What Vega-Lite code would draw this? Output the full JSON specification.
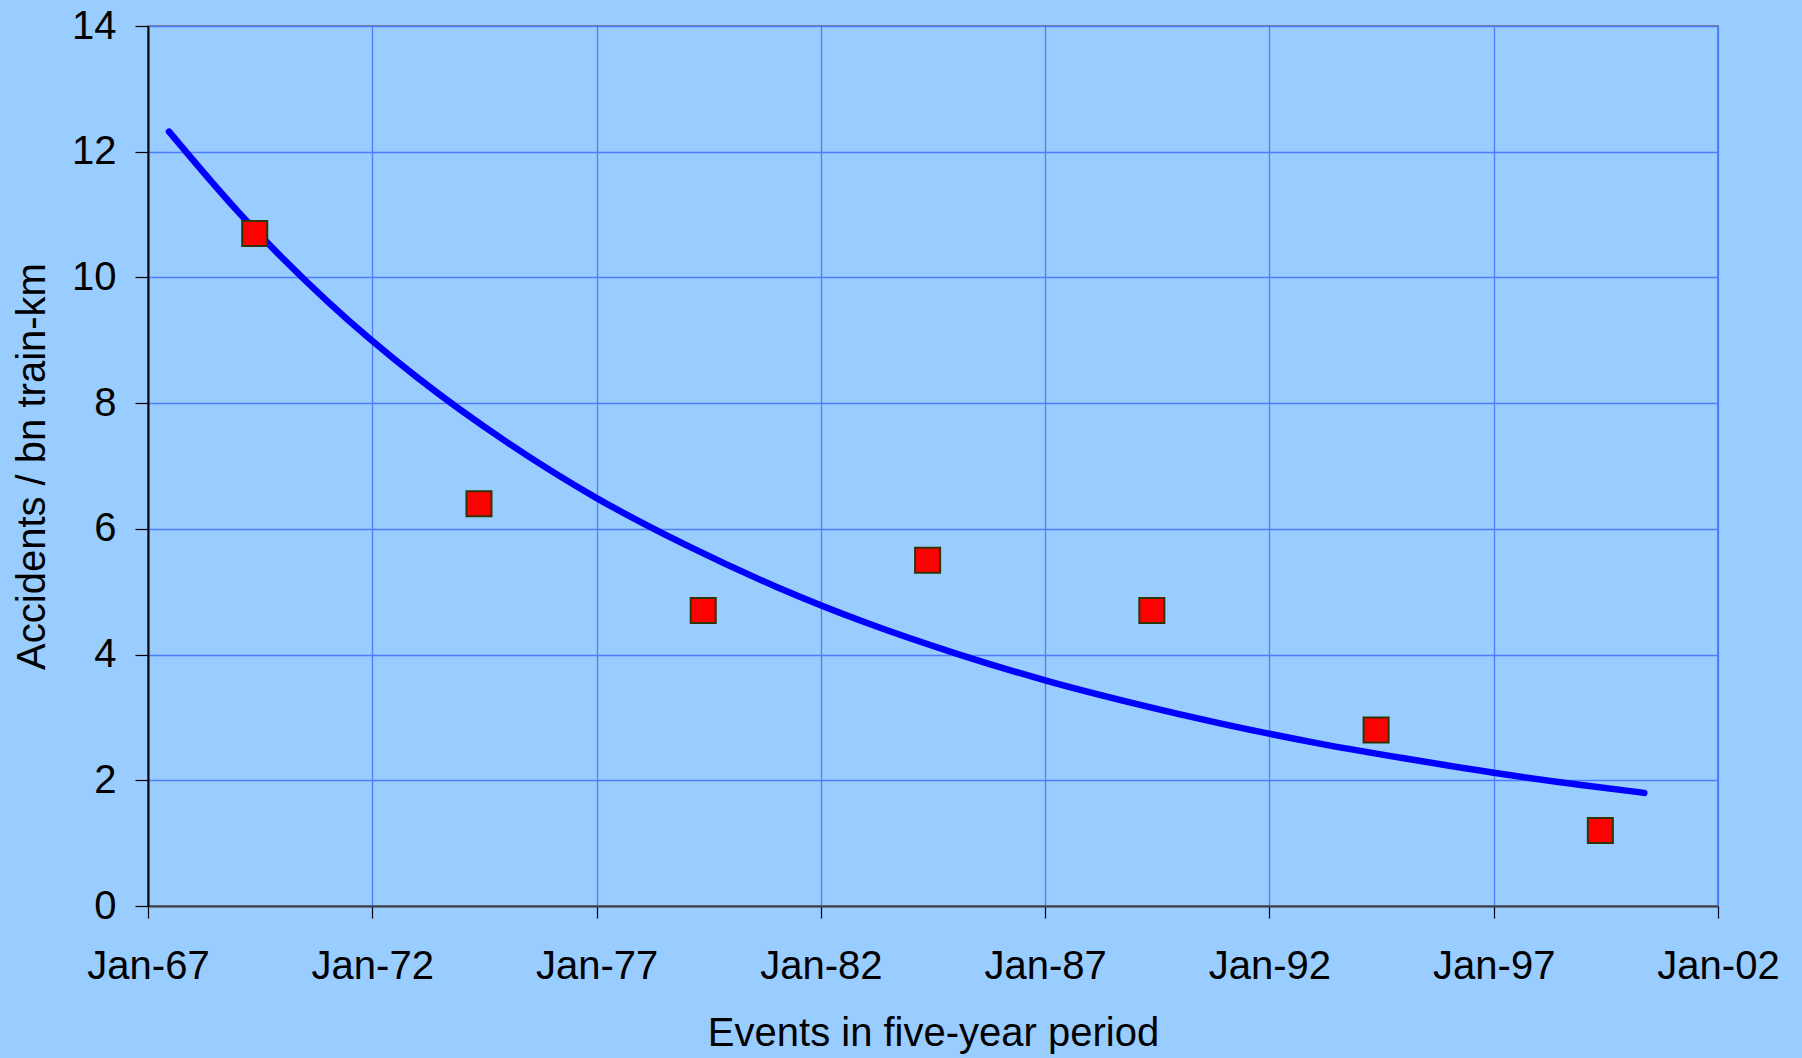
{
  "$schema": "https://vega.github.io/schema/vega-lite/v6.json",
  "width": 1570,
  "height": 880,
  "autosize": {"type": "none"},
  "padding": {"left": 148, "top": 26, "right": 84, "bottom": 152},
  "background": "#99CCFF",
  "config": {
    "view": {"stroke": "#808080", "strokeWidth": 2, "fill": "#99CCFF"},
    "font": "Liberation Sans",
    "axis": {
      "labelFont": "Liberation Sans",
      "titleFont": "Liberation Sans",
      "labelColor": "#000000",
      "titleColor": "#000000",
      "labelFontSize": 40,
      "titleFontSize": 40,
      "titleFontWeight": "normal",
      "gridColor": "#4f7cff",
      "gridWidth": 1.3,
      "gridOpacity": 1,
      "tickColor": "#000000",
      "tickWidth": 1.2
    }
  },
  "datasets": {
    "curve": [
      {"date": "1967-06-21", "value": 12.32},
      {"date": "1969-01-01", "value": 11.05},
      {"date": "1971-01-01", "value": 9.62},
      {"date": "1973-01-01", "value": 8.41},
      {"date": "1975-01-01", "value": 7.38},
      {"date": "1977-01-01", "value": 6.49},
      {"date": "1979-01-01", "value": 5.74},
      {"date": "1981-01-01", "value": 5.08},
      {"date": "1983-01-01", "value": 4.51},
      {"date": "1985-01-01", "value": 4.02},
      {"date": "1987-01-01", "value": 3.59},
      {"date": "1989-01-01", "value": 3.22},
      {"date": "1991-01-01", "value": 2.89},
      {"date": "1993-01-01", "value": 2.60},
      {"date": "1995-01-01", "value": 2.35},
      {"date": "1997-01-01", "value": 2.12},
      {"date": "1999-01-01", "value": 1.92},
      {"date": "2000-05-11", "value": 1.80}
    ],
    "points": [
      {"date": "1969-05-19", "value": 10.7},
      {"date": "1974-05-19", "value": 6.4},
      {"date": "1979-05-19", "value": 4.7},
      {"date": "1984-05-19", "value": 5.5},
      {"date": "1989-05-19", "value": 4.7},
      {"date": "1994-05-19", "value": 2.8},
      {"date": "1999-05-19", "value": 1.2}
    ]
  },
  "encoding": {
    "x": {
      "field": "date",
      "type": "temporal",
      "scale": {"domain": [{"year": 1967, "month": 1, "date": 1}, {"year": 2002, "month": 1, "date": 1}], "nice": false},
      "axis": {
        "title": "Events in five-year period",
        "values": [
          {"year": 1967, "month": 1, "date": 1},
          {"year": 1972, "month": 1, "date": 1},
          {"year": 1977, "month": 1, "date": 1},
          {"year": 1982, "month": 1, "date": 1},
          {"year": 1987, "month": 1, "date": 1},
          {"year": 1992, "month": 1, "date": 1},
          {"year": 1997, "month": 1, "date": 1},
          {"year": 2002, "month": 1, "date": 1}
        ],
        "format": "%b-%y",
        "tickSize": 12,
        "labelPadding": 28,
        "labelFlush": false,
        "labelOverlap": false,
        "titlePadding": 27,
        "domainColor": "#404040",
        "domainWidth": 2
      }
    },
    "y": {
      "field": "value",
      "type": "quantitative",
      "scale": {"domain": [0, 14], "nice": false, "zero": true},
      "axis": {
        "title": "Accidents / bn train-km",
        "values": [0, 2, 4, 6, 8, 10, 12, 14],
        "tickSize": 13,
        "labelPadding": 19,
        "labelFlush": false,
        "labelOverlap": false,
        "titlePadding": 19,
        "domainColor": "#000000",
        "domainWidth": 2
      }
    }
  },
  "layer": [
    {
      "data": {"name": "curve"},
      "mark": {"type": "line", "color": "#0000FF", "strokeWidth": 6.5, "strokeCap": "round", "interpolate": "monotone"}
    },
    {
      "data": {"name": "points"},
      "mark": {"type": "point", "shape": "square", "filled": true, "fill": "#FF0000", "stroke": "#333300", "strokeWidth": 2, "size": 625, "opacity": 1, "fillOpacity": 1}
    }
  ]
}
